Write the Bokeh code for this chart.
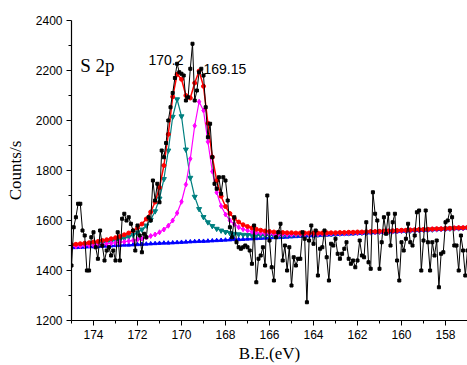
from bokeh.plotting import figure
from bokeh.models import FixedTicker, Range1d, Label
from bokeh.embed import file_html
from bokeh.resources import INLINE

# measured spectrum (B.E. from 175.0 down in 0.1 eV steps)
data_counts = [
    1420, 1573, 1613, 1667, 1667, 1560, 1540, 1400, 1400, 1533,
    1553, 1493, 1447, 1560, 1500, 1440, 1480, 1493, 1460, 1480,
    1440, 1553, 1440, 1607, 1627, 1600, 1613, 1587, 1560, 1480,
    1580, 1540, 1473, 1547, 1533, 1613, 1600, 1760, 1680, 1747,
    1673, 1880, 1853, 1910, 2000, 2053, 2110, 2170, 2227, 2193,
    2187, 2180, 2080, 2093, 2207, 2307, 2080, 2120, 2193, 2207,
    2180, 2053, 1933, 1987, 1853, 1747, 1727, 1773, 1707, 1773,
    1760, 1680, 1573, 1533, 1613, 1513, 1493, 1487, 1493, 1500,
    1493, 1480, 1427, 1580, 1353, 1447, 1460, 1493, 1420, 1700,
    1520, 1413, 1360, 1533, 1553, 1587, 1440, 1500, 1400, 1493,
    1340, 1453, 1420, 1447, 1447, 1553, 1527, 1273, 1520, 1580,
    1507, 1560, 1380, 1487, 1493, 1560, 1453, 1360, 1507, 1500,
    1527, 1467, 1447, 1467, 1487, 1513, 1447, 1427, 1440, 1413,
    1440, 1520, 1460, 1453, 1593, 1433, 1407, 1713, 1627, 1600,
    1407, 1513, 1613, 1547, 1627, 1500, 1593, 1627, 1440, 1360,
    1513, 1480, 1527, 1587, 1513, 1500, 1540, 1633, 1640, 1400,
    1520, 1640, 1513, 1400, 1513, 1460, 1520, 1333, 1467, 1473,
    1593, 1600, 1640, 1613, 1500, 1500, 1400, 1540, 1480, 1380,
    1480,
]
data_ev = [round(175.0 - 0.1 * i, 1) for i in range(len(data_counts))]

# fitted curves (B.E. from 175.0 down in 0.2 eV steps)
fit_envelope = [
    1503, 1505, 1507, 1509, 1511, 1514, 1516, 1520, 1523, 1527,
    1531, 1536, 1543, 1550, 1559, 1571, 1586, 1606, 1634, 1674,
    1732, 1820, 1945, 2095, 2185, 2165, 2100, 2090, 2150, 2198,
    2137, 1989, 1854, 1760, 1697, 1656, 1628, 1608, 1594, 1583,
    1576, 1570, 1565, 1561, 1558, 1556, 1554, 1553, 1552, 1551,
    1551, 1550, 1550, 1550, 1550, 1550, 1550, 1550, 1551, 1551,
    1551, 1552, 1552, 1553, 1553, 1554, 1554, 1555, 1556, 1556,
    1557, 1558, 1558, 1559, 1560, 1561, 1561, 1562, 1563, 1564,
    1564, 1565, 1566, 1567, 1567, 1568, 1569, 1570, 1571, 1571,
    1572,
]
fit_peak_170 = [
    1498, 1500, 1501, 1503, 1505, 1507, 1509, 1511, 1514, 1517,
    1520, 1524, 1529, 1535, 1542, 1552, 1564, 1580, 1603, 1637,
    1688, 1766, 1880, 2015, 2085, 2017, 1884, 1771, 1695, 1646,
    1614, 1593, 1578, 1567, 1560, 1554, 1550, 1547, 1545, 1543,
    1542, 1541, 1541, 1540, 1540, 1540, 1540, 1540, 1540, 1541,
    1541, 1542, 1542, 1543, 1543, 1544, 1544, 1545, 1546, 1546,
    1547, 1548, 1549, 1549, 1550, 1551, 1551, 1552, 1553, 1554,
    1555, 1555, 1556, 1557, 1558, 1559, 1559, 1560, 1561, 1562,
    1563, 1564, 1564, 1565, 1566, 1567, 1568, 1569, 1569, 1570,
    1571,
]
fit_peak_169 = [
    1496, 1497, 1498, 1500, 1501, 1502, 1504, 1505, 1507, 1509,
    1511, 1513, 1515, 1518, 1520, 1524, 1528, 1532, 1538, 1544,
    1553, 1564, 1579, 1600, 1630, 1675, 1744, 1847, 1979, 2075,
    2040, 1915, 1796, 1712, 1658, 1624, 1600, 1585, 1573, 1565,
    1560, 1555, 1552, 1550, 1548, 1547, 1546, 1545, 1545, 1544,
    1544, 1545, 1545, 1545, 1545, 1546, 1546, 1547, 1547, 1548,
    1548, 1549, 1549, 1550, 1551, 1551, 1552, 1553, 1554, 1554,
    1555, 1556, 1557, 1557, 1558, 1559, 1560, 1561, 1561, 1562,
    1563, 1564, 1565, 1565, 1566, 1567, 1568, 1569, 1570, 1570,
    1571,
]
fit_background = [
    1491, 1492, 1493, 1494, 1495, 1495, 1496, 1497, 1498, 1499,
    1500, 1501, 1502, 1502, 1503, 1504, 1505, 1506, 1507, 1508,
    1509, 1510, 1510, 1511, 1512, 1513, 1514, 1515, 1516, 1517,
    1517, 1518, 1519, 1520, 1521, 1522, 1523, 1524, 1524, 1525,
    1526, 1527, 1528, 1529, 1530, 1531, 1532, 1532, 1533, 1534,
    1535, 1536, 1537, 1538, 1539, 1539, 1540, 1541, 1542, 1543,
    1544, 1545, 1546, 1546, 1547, 1548, 1549, 1550, 1551, 1552,
    1553, 1554, 1554, 1555, 1556, 1557, 1558, 1559, 1560, 1561,
    1561, 1562, 1563, 1564, 1565, 1566, 1567, 1568, 1568, 1569,
    1570,
]
fit_ev = [round(175.0 - 0.2 * i, 1) for i in range(len(fit_background))]

x_major = [174, 172, 170, 168, 166, 164, 162, 160, 158]
x_minor = [175, 173, 171, 169, 167, 165, 163, 161, 159, 157]
y_major = [1200, 1400, 1600, 1800, 2000, 2200, 2400]
y_minor = [1300, 1500, 1700, 1900, 2100, 2300]

labels = [("S 2p", 174.6, 2220, "Liberation Serif", "19px"),
          ("170.2", 171.5, 2244, "Liberation Sans", "14px"),
          ("169.15", 169.0, 2208, "Liberation Sans", "14px")]

p = figure(width=467, height=365, output_backend="svg", toolbar_location=None,
           x_range=Range1d(175, 157), y_range=Range1d(1200, 2400),
           min_border_left=71, min_border_right=0, min_border_top=20,
           min_border_bottom=45)
p.outline_line_color = None
p.xgrid.visible = False
p.ygrid.visible = False
p.background_fill_color = "white"
p.border_fill_color = "white"

# fitted components
p.line(fit_ev, fit_background, line_color="#0000FF", line_width=1.5)
p.scatter(fit_ev, fit_background, marker="triangle", size=4, color="#0000FF")
p.line(fit_ev, fit_peak_170, line_color="#008080", line_width=1.2)
p.scatter(fit_ev, fit_peak_170, marker="inverted_triangle", size=5, color="#008080")
p.line(fit_ev, fit_peak_169, line_color="#FF00FF", line_width=1.2)
p.scatter(fit_ev, fit_peak_169, marker="diamond", size=5, color="#FF00FF")
p.line(fit_ev, fit_envelope, line_color="#FF0000", line_width=1.5)
p.scatter(fit_ev, fit_envelope, marker="circle", size=4, color="#FF0000")

# raw data
p.line(data_ev, data_counts, line_color="black", line_width=1)
p.scatter(data_ev, data_counts, marker="square", size=3, color="black")

for txt, xx, yy, font, size in labels:
    p.add_layout(Label(x=xx, y=yy, text=txt, text_font=font, text_font_size=size,
                       text_color="black", text_align="left", text_baseline="alphabetic"))

for ax in (p.xaxis[0], p.yaxis[0]):
    ax.axis_line_color = "black"
    ax.axis_line_width = 1.2
    ax.major_tick_line_color = "black"
    ax.minor_tick_line_color = "black"
    ax.major_tick_in = 0
    ax.major_tick_out = 5
    ax.minor_tick_in = 0
    ax.minor_tick_out = 3
    ax.major_label_text_font = "Liberation Sans"
    ax.major_label_text_font_size = "12px"
    ax.major_label_text_color = "black"
    ax.axis_label_text_font = "Liberation Serif"
    ax.axis_label_text_font_size = "17px"
    ax.axis_label_text_font_style = "normal"
    ax.axis_label_text_color = "black"

p.xaxis[0].ticker = FixedTicker(ticks=x_major, minor_ticks=x_minor)
p.yaxis[0].ticker = FixedTicker(ticks=y_major, minor_ticks=y_minor)
p.xaxis[0].axis_label = "B.E.(eV)"
p.yaxis[0].axis_label = "Counts/s"
p.xaxis[0].major_label_standoff = 4
p.xaxis[0].axis_label_standoff = 2
p.yaxis[0].major_label_standoff = 4
p.yaxis[0].axis_label_standoff = 8

open("out.html", "w").write(file_html(p, INLINE))
